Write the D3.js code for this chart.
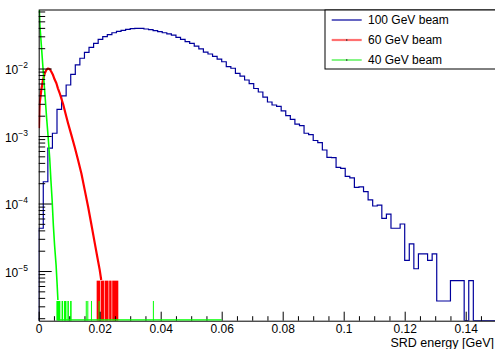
<!DOCTYPE html>
<html lang="en">
<head>
<meta charset="UTF-8">
<title>SRD energy</title>
<script src="https://cdn.jsdelivr.net/npm/d3@7"></script>
<style>
  body { margin: 0; background: #fff; }
  svg text { font-family: "Liberation Sans", Arial, Helvetica, sans-serif; fill: #000; }
</style>
</head>
<body>
<script>
// 100 GeV beam: 100 bins of 0.0015 GeV, value per bin
const binWidth = 0.0015;
const blueValues = [
  4.3e-5, 2.1e-4, 6.6e-4, 1.10e-3, 2.49e-3, 3.92e-3, 5.70e-3, 8.21e-3, 1.13e-2, 1.42e-2,
  1.74e-2, 2.06e-2, 2.36e-2, 2.71e-2, 2.96e-2, 3.17e-2, 3.39e-2, 3.56e-2, 3.68e-2, 3.81e-2,
  3.89e-2, 3.94e-2, 3.94e-2, 3.85e-2, 3.76e-2, 3.63e-2, 3.51e-2, 3.39e-2, 3.25e-2, 3.13e-2,
  2.90e-2, 2.71e-2, 2.50e-2, 2.36e-2, 2.15e-2, 1.96e-2, 1.75e-2, 1.64e-2, 1.51e-2, 1.38e-2,
  1.26e-2, 1.07e-2, 1.01e-2, 8.49e-3, 7.74e-3, 6.76e-3, 5.97e-3, 5.06e-3, 4.49e-3, 3.78e-3,
  3.19e-3, 2.88e-3, 2.75e-3, 2.35e-3, 2.00e-3, 1.77e-3, 1.50e-3, 1.43e-3, 1.10e-3, 1.05e-3,
  8.58e-4, 7.96e-4, 6.21e-4, 4.83e-4, 4.80e-4, 3.43e-4, 3.32e-4, 2.53e-4, 2.40e-4, 1.74e-4,
  1.77e-4, 1.50e-4, 1.13e-4, 9.19e-5, 9.50e-5, 6.04e-5, 6.98e-5, 4.30e-5, 4.30e-5, 4.97e-5,
  1.44e-5, 2.52e-5, 1.08e-5, 1.80e-5, 1.80e-5, 1.44e-5, 1.80e-5, 3.6e-6, 3.6e-6, 3.6e-6,
  7.2e-6, 7.2e-6, 7.2e-6, 0, 7.2e-6, 0, 0, 0, 0, 0
];

// 60 GeV beam: fine-binned, read as a curve
const redEnergy = [0.0001, 0.0002, 0.00033, 0.00085, 0.0014, 0.0020, 0.0025, 0.0030, 0.0036, 0.0041,
  0.0047, 0.0052, 0.0058, 0.0063, 0.0069, 0.0074, 0.0080, 0.0085, 0.0090, 0.0096,
  0.0107, 0.0118, 0.0129, 0.0140, 0.0151, 0.0162, 0.0172, 0.0184, 0.0192, 0.0200, 0.0205];
const redValues = [1.31e-3, 1.98e-3, 3.08e-3, 4.80e-3, 6.76e-3, 8.49e-3, 9.50e-3, 1.00e-2, 9.83e-3, 9.03e-3,
  8.01e-3, 6.92e-3, 6.04e-3, 5.09e-3, 4.30e-3, 3.62e-3, 2.98e-3, 2.43e-3, 1.98e-3, 1.56e-3,
  1.04e-3, 6.87e-4, 4.41e-4, 2.78e-4, 1.58e-4, 8.97e-5, 5.09e-5, 2.57e-5, 1.63e-5, 1.04e-5, 7.36e-6];
// tail: [from, to, value]
const redTail = [[0.0190, 0.0201, 7.2e-6], [0.0203, 0.0214, 7.2e-6], [0.0216, 0.0229, 7.2e-6],
  [0.0231, 0.0239, 7.2e-6], [0.0241, 0.0261, 7.2e-6]];

// 40 GeV beam
const greenEnergy = [0.0001, 0.00043, 0.00098, 0.0015, 0.0021, 0.0026, 0.0031, 0.0036, 0.0040, 0.0044,
  0.0048, 0.0052, 0.0057, 0.0060, 0.0063];
const greenValues = [9.66e-2, 4.16e-2, 1.88e-2, 8.88e-3, 3.82e-3, 1.85e-3, 9.66e-4, 4.72e-4, 2.23e-4, 1.13e-4,
  4.80e-5, 2.43e-5, 1.23e-5, 6.87e-6, 3.72e-6];
const greenTail = [[0.0058, 0.0071, 3.6e-6], [0.0075, 0.0080, 3.6e-6], [0.0083, 0.0091, 3.6e-6],
  [0.0094, 0.0099, 3.6e-6], [0.0103, 0.0108, 3.6e-6]];
const greenSpikes = [0.0156, 0.0161, 0.0173, 0.0198, 0.0376];
const greenSpikeValue = 3.6e-6;
const greenEnd = 0.06;

const xMajor = [0, 0.02, 0.04, 0.06, 0.08, 0.1, 0.12, 0.14];
const yMajor = [1e-5, 1e-4, 1e-3, 1e-2];
const yMajorLabels = ["\u22125", "\u22124", "\u22123", "\u22122"];
const legendLabels = ["100 GeV beam", "60 GeV beam", "40 GeV beam"];
const legendColors = ["#00009c", "#ff7070", "#33ee33"];

const width = 495, height = 349;
const marginLeft = 38.7, marginTop = 10, plotRight = 496.2, plotBottom = 320.7;

const svg = d3.select("body").append("svg")
  .attr("width", width).attr("height", height);

const x = d3.scaleLinear().domain([0, 0.15]).range([marginLeft, plotRight]);
const y = d3.scaleLog().domain([1.837e-6, 0.0736]).range([plotBottom, marginTop]);
const yMin = y.domain()[0];
const yc = v => y(Math.max(v, yMin));

svg.append("defs").append("clipPath").attr("id", "frame")
  .append("rect").attr("x", marginLeft).attr("y", marginTop)
  .attr("width", plotRight - marginLeft).attr("height", plotBottom - marginTop);

const plot = svg.append("g").attr("clip-path", "url(#frame)");

// blue step histogram
const bluePts = [[x(0), yc(0)]];
blueValues.forEach((v, i) => {
  bluePts.push([x(i * binWidth), yc(v)]);
  bluePts.push([x((i + 1) * binWidth), yc(v)]);
});
plot.append("path")
  .attr("d", d3.line()(bluePts))
  .attr("fill", "none").attr("stroke", "#00009c").attr("stroke-width", 1.2);

// red
const redPts = redEnergy.map((e, i) => [x(e), y(redValues[i])]);
plot.append("path")
  .attr("d", d3.line()(redPts))
  .attr("fill", "none").attr("stroke", "#ff0000").attr("stroke-width", 2.2)
  .attr("stroke-linejoin", "round");
plot.selectAll(".redtail").data(redTail).enter().append("rect")
  .attr("class", "redtail")
  .attr("x", d => x(d[0])).attr("width", d => x(d[1]) - x(d[0]))
  .attr("y", d => y(d[2])).attr("height", d => plotBottom - y(d[2]))
  .attr("fill", "#ff0000");

// green
const greenPts = greenEnergy.map((e, i) => [x(e), y(greenValues[i])]);
plot.append("path")
  .attr("d", d3.line()(greenPts))
  .attr("fill", "none").attr("stroke", "#00ff00").attr("stroke-width", 1.6);
plot.selectAll(".greentail").data(greenTail).enter().append("rect")
  .attr("class", "greentail")
  .attr("x", d => x(d[0])).attr("width", d => x(d[1]) - x(d[0]))
  .attr("y", d => y(d[2])).attr("height", d => plotBottom - y(d[2]))
  .attr("fill", "#00ff00");
plot.selectAll(".greenspike").data(greenSpikes).enter().append("line")
  .attr("class", "greenspike")
  .attr("x1", d => x(d)).attr("x2", d => x(d))
  .attr("y1", y(greenSpikeValue)).attr("y2", plotBottom)
  .attr("stroke", "#00ff00").attr("stroke-width", 1);

// frame top / right
svg.append("path")
  .attr("d", `M${marginLeft},${marginTop}H${plotRight}V${plotBottom}`)
  .attr("fill", "none").attr("stroke", "#000").attr("stroke-width", 1);

// x axis
const xMinor = d3.range(0, 0.1501, 0.005).filter(v => Math.abs(v / 0.02 - Math.round(v / 0.02)) > 1e-6);
svg.append("g")
  .attr("transform", `translate(0,${plotBottom})`)
  .call(d3.axisBottom(x).tickValues(xMinor).tickSize(-4.5).tickSizeOuter(0).tickFormat(""))
  .call(g => g.select(".domain").remove());
const xAxis = svg.append("g")
  .attr("transform", `translate(0,${plotBottom})`)
  .call(d3.axisBottom(x).tickValues(xMajor).tickSize(-9).tickSizeOuter(0).tickPadding(4)
    .tickFormat(d => d3.format("~g")(d)));
xAxis.selectAll("text").attr("font-size", 12).attr("font-family", null);

// green zero-bins line along the bottom
svg.append("line")
  .attr("x1", x(greenEnergy[greenEnergy.length - 1])).attr("x2", x(greenEnd))
  .attr("y1", plotBottom - 0.8).attr("y2", plotBottom - 0.8)
  .attr("stroke", "#00ff00").attr("stroke-width", 1.2);

// y axis
const yMinor = [];
for (let p = -6; p <= -2; p++) {
  for (let m = 2; m <= 9; m++) {
    const v = m * Math.pow(10, p);
    if (v >= y.domain()[0] && v <= y.domain()[1]) yMinor.push(v);
  }
}
svg.append("g")
  .attr("transform", `translate(${marginLeft},0)`)
  .call(d3.axisLeft(y).tickValues(yMinor).tickSize(-6.5).tickSizeOuter(0).tickFormat(""))
  .call(g => g.select(".domain").remove());
svg.append("g")
  .attr("transform", `translate(${marginLeft},0)`)
  .call(d3.axisLeft(y).tickValues(yMajor).tickSize(-13).tickSizeOuter(0).tickFormat(""));

const yLab = svg.append("g").selectAll("text").data(yMajor).enter().append("text")
  .attr("x", 28).attr("y", d => y(d) + 5.5)
  .attr("text-anchor", "end").attr("font-size", 12);
yLab.append("tspan").text("10");
yLab.append("tspan").attr("font-size", 8.5).attr("dy", -6)
  .text((d, i) => yMajorLabels[i]);

// axis title
svg.append("text")
  .attr("x", 494).attr("y", 347)
  .attr("text-anchor", "end").attr("font-size", 12.5)
  .text("SRD energy [GeV]");

// legend
const legend = svg.append("g");
legend.append("rect")
  .attr("x", 325).attr("y", marginTop).attr("width", 175).attr("height", 59)
  .attr("fill", "#fff").attr("stroke", "#000").attr("stroke-width", 1);
const rows = legend.selectAll(".row").data(legendLabels).enter().append("g")
  .attr("class", "row")
  .attr("transform", (d, i) => `translate(0,${20 + i * 20})`);
rows.append("line")
  .attr("x1", 331.7).attr("x2", 361.7).attr("y1", 0).attr("y2", 0)
  .attr("stroke", (d, i) => legendColors[i])
  .attr("stroke-width", (d, i) => i === 1 ? 2.2 : 1.2);
rows.filter((d, i) => i > 0).append("rect")
  .attr("x", 346).attr("y", -0.7).attr("width", 1.4).attr("height", 1.4)
  .attr("fill", "#333");
rows.append("text")
  .attr("x", 368).attr("y", 4.3).attr("font-size", 12)
  .text(d => d);
</script>
</body>
</html>
